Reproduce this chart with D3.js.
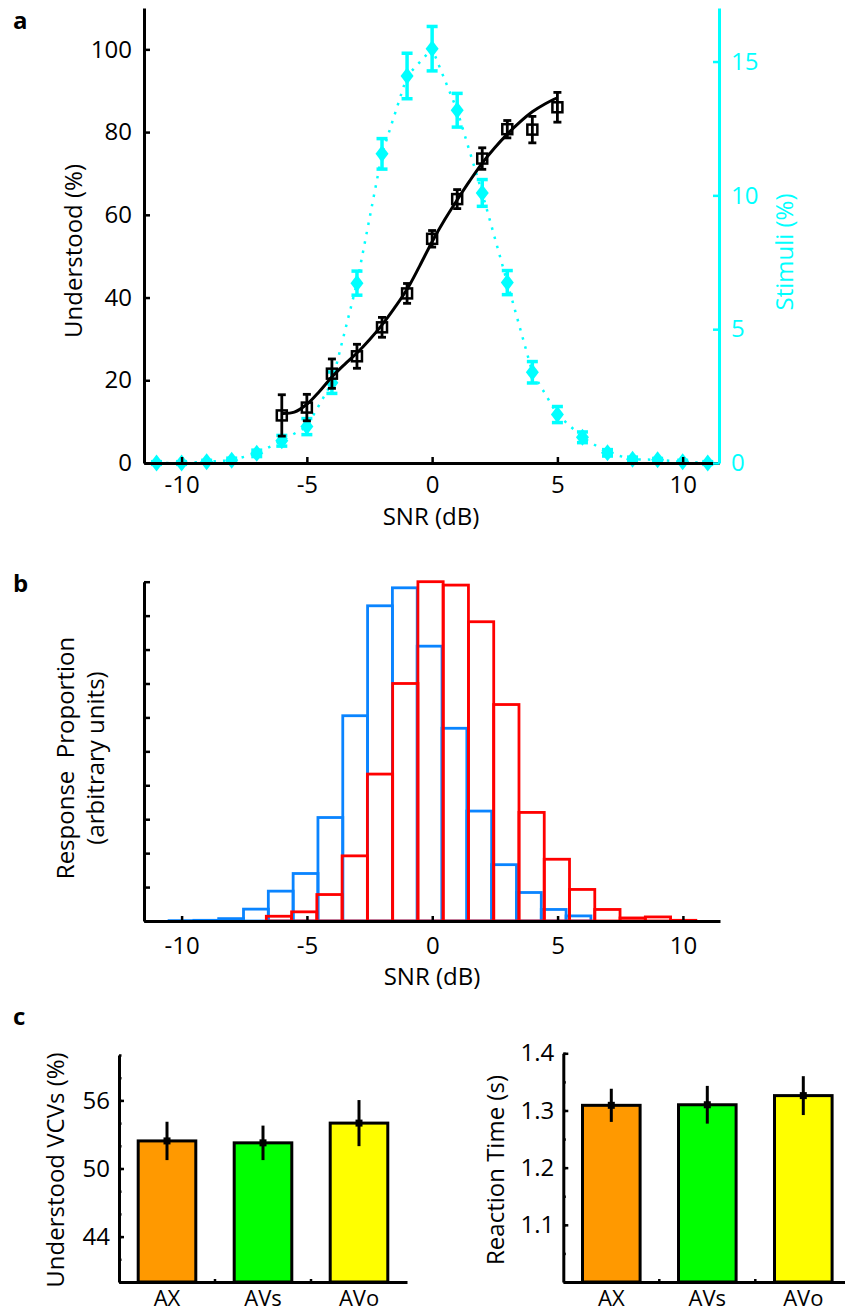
<!DOCTYPE html>
<html>
<head>
<meta charset="utf-8">
<script src="https://cdn.jsdelivr.net/npm/d3@7"></script>
<style>
  body { margin: 0; background: #fff; }
  svg { display: block; font-family: "Open Sans", sans-serif; }
</style>
</head>
<body>
<svg id="fig" width="845" height="1313"></svg>
<script>
// ---- panel a: psychometric curve + stimulus distribution
const snrStim = [-11, -10, -9, -8, -7, -6, -5, -4, -3, -2, -1, 0, 1, 2, 3, 4, 5, 6, 7, 8, 9, 10, 11];
const stimuli = [0, 0, 0.05, 0.1, 0.36, 0.83, 1.36, 3.0, 6.72, 11.55, 14.46, 15.48, 13.18, 10.09, 6.74, 3.39, 1.81, 0.96, 0.38, 0.14, 0.12, 0.05, 0];
const stimuliErr = [0.05, 0.05, 0.05, 0.08, 0.12, 0.2, 0.3, 0.4, 0.45, 0.57, 0.85, 0.83, 0.63, 0.5, 0.45, 0.4, 0.3, 0.2, 0.12, 0.08, 0.05, 0.05, 0.05];

const snrUnd = [-6, -5, -4, -3, -2, -1, 0, 1, 2, 3, 4, 5];
const understood = [11.5, 13.4, 21.6, 25.8, 32.8, 41.0, 54.2, 63.8, 73.6, 80.7, 80.6, 86.0];
const understoodErr = [5.0, 3.2, 3.55, 2.9, 2.4, 2.4, 2.0, 2.3, 2.6, 2.1, 3.2, 3.6];

const fitSnr = [-6, -5.5, -5, -4.5, -4, -3.5, -3, -2.5, -2, -1.5, -1, -0.5, 0, 0.5, 1, 1.5, 2, 2.5, 3, 3.5, 4, 4.5, 5];
const fitUnd = [12.0, 12.3, 14.2, 17.3, 20.8, 23.8, 26.6, 29.8, 33.4, 37.5, 42.0, 47.6, 53.5, 58.8, 63.6, 68.2, 72.5, 76.2, 79.5, 82.4, 84.9, 86.8, 88.3];

const snrTicks = [-10, -5, 0, 5, 10];
const undTicks = [0, 20, 40, 60, 80, 100];
const stimTicks = [0, 5, 10, 15];

// ---- panel b: response histograms (bin start, bin width, heights)
const blueStart = -10.5;
const blueWidth = 0.99;
const blueHist = [0.01, 0.02, 0.07, 0.35, 0.88, 1.4, 3.05, 6.05, 9.29, 9.82, 8.1, 5.68, 3.24, 1.66, 0.84, 0.34, 0.15];
const redStart = -6.62;
const redWidth = 1.008;
const redHist = [0.14, 0.27, 0.78, 1.92, 4.33, 7.0, 10.0, 9.9, 8.82, 6.38, 3.2, 1.82, 0.93, 0.34, 0.09, 0.12, 0.02];
const propTicks = [0, 1, 2, 3, 4, 5, 6, 7, 8, 9, 10];

// ---- panel c: bars
const conditions = ['AX', 'AVs', 'AVo'];
const condColors = ['#ff9900', '#00ff00', '#ffff00'];
const vcv = [52.43, 52.26, 54.0];
const vcvErr = [1.69, 1.52, 2.03];
const vcvMajor = [44, 50, 56];
const vcvMinor = [40, 42, 44, 46, 48, 50, 52, 54, 56, 58, 60];
const rt = [1.309, 1.310, 1.326];
const rtErr = [0.029, 0.033, 0.034];
const rtMajor = [1.1, 1.2, 1.3, 1.4];
const rtMinor = [1.0, 1.05, 1.1, 1.15, 1.2, 1.25, 1.3, 1.35, 1.4];

const svg = d3.select('#fig');
const cyan = '#00ffff';
const blue = '#0a84ff';
const red = '#ff0000';
const FS = 24;

const fmt = d => String(d);

function styleAxis(g, color) {
    g.attr('font-size', FS).attr('font-family', null);
    g.select('.domain').attr('stroke', color).attr('stroke-width', 3);
    g.selectAll('.tick line').attr('stroke', color).attr('stroke-width', 2.5);
    g.selectAll('.tick text').attr('fill', color);
}

function vLabel(x, y, txt, color) {
    svg.append('text')
        .attr('transform', `translate(${x},${y}) rotate(-90)`)
        .attr('text-anchor', 'middle')
        .attr('font-size', FS)
        .attr('fill', color || '#000')
        .style('white-space', 'pre')
        .text(txt);
}

function panelLetter(x, y, txt) {
    svg.append('text')
        .attr('x', x).attr('y', y)
        .attr('font-size', 24)
        .attr('font-weight', 'bold')
        .text(txt);
}

// =================== panel a ===================
const xA = d3.scaleLinear().domain([-11.5, 11.45]).range([144, 719]);
const yA = d3.scaleLinear().domain([0, 110]).range([463, 8]);
const yS = d3.scaleLinear().domain([0, 17]).range([463, 8]);

// cyan dotted distribution
svg.append('path')
    .datum(stimuli)
    .attr('d', d3.line().x((d, i) => xA(snrStim[i])).y(d => yS(d)))
    .attr('fill', 'none')
    .attr('stroke', cyan)
    .attr('stroke-width', 2.5)
    .attr('stroke-dasharray', '2.5 7');

const stimG = svg.append('g');
stimuli.forEach((v, i) => {
    const cx = xA(snrStim[i]);
    const y1 = yS(v - stimuliErr[i]);
    const y2 = yS(v + stimuliErr[i]);
    stimG.append('line').attr('x1', cx).attr('x2', cx).attr('y1', y1).attr('y2', y2)
        .attr('stroke', cyan).attr('stroke-width', 3.5);
    [y1, y2].forEach(yy => stimG.append('line')
        .attr('x1', cx - 5.5).attr('x2', cx + 5.5).attr('y1', yy).attr('y2', yy)
        .attr('stroke', cyan).attr('stroke-width', 3.5));
    const cy = yS(v);
    stimG.append('path')
        .attr('d', `M${cx},${cy - 8.5}L${cx + 6.5},${cy}L${cx},${cy + 8.5}L${cx - 6.5},${cy}Z`)
        .attr('fill', cyan);
});

// black fit curve
svg.append('path')
    .datum(fitUnd)
    .attr('d', d3.line().curve(d3.curveCatmullRom).x((d, i) => xA(fitSnr[i])).y(d => yA(d)))
    .attr('fill', 'none')
    .attr('stroke', '#000')
    .attr('stroke-width', 3);

const undG = svg.append('g');
understood.forEach((v, i) => {
    const cx = xA(snrUnd[i]);
    const y1 = yA(v - understoodErr[i]);
    const y2 = yA(v + understoodErr[i]);
    undG.append('line').attr('x1', cx).attr('x2', cx).attr('y1', y1).attr('y2', y2)
        .attr('stroke', '#000').attr('stroke-width', 2.8);
    [y1, y2].forEach(yy => undG.append('line')
        .attr('x1', cx - 4).attr('x2', cx + 4).attr('y1', yy).attr('y2', yy)
        .attr('stroke', '#000').attr('stroke-width', 2.8));
    undG.append('rect')
        .attr('x', cx - 5).attr('y', yA(v) - 5).attr('width', 10).attr('height', 10)
        .attr('fill', 'none').attr('stroke', '#000').attr('stroke-width', 2.5);
});

// axes a
svg.append('g')
    .attr('transform', 'translate(0,463)')
    .call(d3.axisBottom(xA).tickValues(snrTicks).tickFormat(fmt).tickSizeInner(-6).tickSizeOuter(0).tickPadding(13))
    .call(g => styleAxis(g, '#000'));
svg.append('g')
    .attr('transform', 'translate(144,0)')
    .call(d3.axisLeft(yA).tickValues(undTicks).tickFormat(fmt).tickSizeInner(-6).tickSizeOuter(0).tickPadding(12))
    .call(g => styleAxis(g, '#000'));
svg.append('g')
    .attr('transform', 'translate(719,0)')
    .call(d3.axisRight(yS).tickValues(stimTicks).tickFormat(fmt).tickSizeInner(-6).tickSizeOuter(0).tickPadding(12))
    .call(g => styleAxis(g, cyan));

vLabel(82, 251, 'Understood (%)');
vLabel(793, 252, 'Stimuli (%)', cyan);
svg.append('text').attr('x', 431).attr('y', 525).attr('text-anchor', 'middle').attr('font-size', FS).text('SNR (dB)');
panelLetter(13, 29, 'a');

// =================== panel b ===================
const xB = d3.scaleLinear().domain([-11.5, 11.48]).range([144, 720]);
const yB = d3.scaleLinear().domain([0, 10]).range([921, 581.7]);

function drawHist(heights, start, width, color) {
    const g = svg.append('g');
    heights.forEach((h, i) => {
        const x0 = xB(start + i * width);
        const x1 = xB(start + (i + 1) * width);
        g.append('rect')
            .attr('x', x0).attr('y', yB(h))
            .attr('width', x1 - x0).attr('height', yB(0) - yB(h))
            .attr('fill', 'none').attr('stroke', color).attr('stroke-width', 2.8);
    });
}
drawHist(blueHist, blueStart, blueWidth, blue);
drawHist(redHist, redStart, redWidth, red);

svg.append('g')
    .attr('transform', 'translate(0,921)')
    .call(d3.axisBottom(xB).tickValues(snrTicks).tickFormat(fmt).tickSizeInner(-5).tickSizeOuter(0).tickPadding(16))
    .call(g => styleAxis(g, '#000'));
svg.append('g')
    .attr('transform', 'translate(144,0)')
    .call(d3.axisLeft(yB).tickValues(propTicks).tickFormat('').tickSizeInner(-6).tickSizeOuter(0))
    .call(g => styleAxis(g, '#000'));

vLabel(74, 758, 'Response  Proportion');
vLabel(104, 758, '(arbitrary units)');
svg.append('text').attr('x', 432).attr('y', 985).attr('text-anchor', 'middle').attr('font-size', FS).text('SNR (dB)');
panelLetter(13, 592, 'b');

// =================== panel c ===================
function barChart(x0, values, errs, yDomain, yRange, major, minor, label, labelX) {
    const x = d3.scaleBand().domain(conditions).range([x0, x0 + 288]).paddingInner(0.4).paddingOuter(0.2);
    const y = d3.scaleLinear().domain(yDomain).range(yRange);
    const g = svg.append('g');

    g.selectAll('rect.bar')
        .data(values)
        .join('rect')
        .attr('class', 'bar')
        .attr('x', (d, i) => x(conditions[i]))
        .attr('y', d => y(d))
        .attr('width', x.bandwidth())
        .attr('height', d => y(yDomain[0]) - y(d))
        .attr('fill', (d, i) => condColors[i])
        .attr('stroke', '#000')
        .attr('stroke-width', 3);

    values.forEach((v, i) => {
        const cx = x(conditions[i]) + x.bandwidth() / 2;
        g.append('line').attr('x1', cx).attr('x2', cx)
            .attr('y1', y(v - errs[i])).attr('y2', y(v + errs[i]))
            .attr('stroke', '#000').attr('stroke-width', 3);
        g.append('rect').attr('x', cx - 3.5).attr('y', y(v) - 3.5)
            .attr('width', 7).attr('height', 7).attr('fill', '#000');
    });

    // x axis with category labels
    g.append('g')
        .attr('transform', `translate(0,${yRange[0]})`)
        .call(d3.axisBottom(x).tickSize(0).tickPadding(8))
        .call(gg => styleAxis(gg, '#000'))
        .call(gg => gg.attr('font-size', 22));
    // small marks between categories
    conditions.slice(0, 2).forEach(c => {
        const bx = x(c) + x.bandwidth() / 2 + x.step() / 2;
        g.append('line').attr('x1', bx).attr('x2', bx)
            .attr('y1', yRange[0]).attr('y2', yRange[0] - 3)
            .attr('stroke', '#000').attr('stroke-width', 2.5);
    });

    g.append('g')
        .attr('transform', `translate(${x0},0)`)
        .call(d3.axisLeft(y).tickValues(minor).tickFormat('').tickSizeInner(-2.5).tickSizeOuter(0))
        .call(gg => styleAxis(gg, '#000'));
    g.append('g')
        .attr('transform', `translate(${x0},0)`)
        .call(d3.axisLeft(y).tickValues(major).tickFormat(fmt).tickSizeInner(-5).tickSizeOuter(0).tickPadding(9))
        .call(gg => styleAxis(gg, '#000'))
        .call(gg => gg.select('.domain').remove());

    vLabel(labelX, 1170, label);
}

barChart(119, vcv, vcvErr, [40, 60], [1282, 1055], vcvMajor, vcvMinor, 'Understood VCVs (%)', 64);
barChart(563.3, rt, rtErr, [1.0, 1.4], [1282, 1053.3], rtMajor, rtMinor, 'Reaction Time (s)', 504);
panelLetter(13, 1025, 'c');
</script>
</body>
</html>
